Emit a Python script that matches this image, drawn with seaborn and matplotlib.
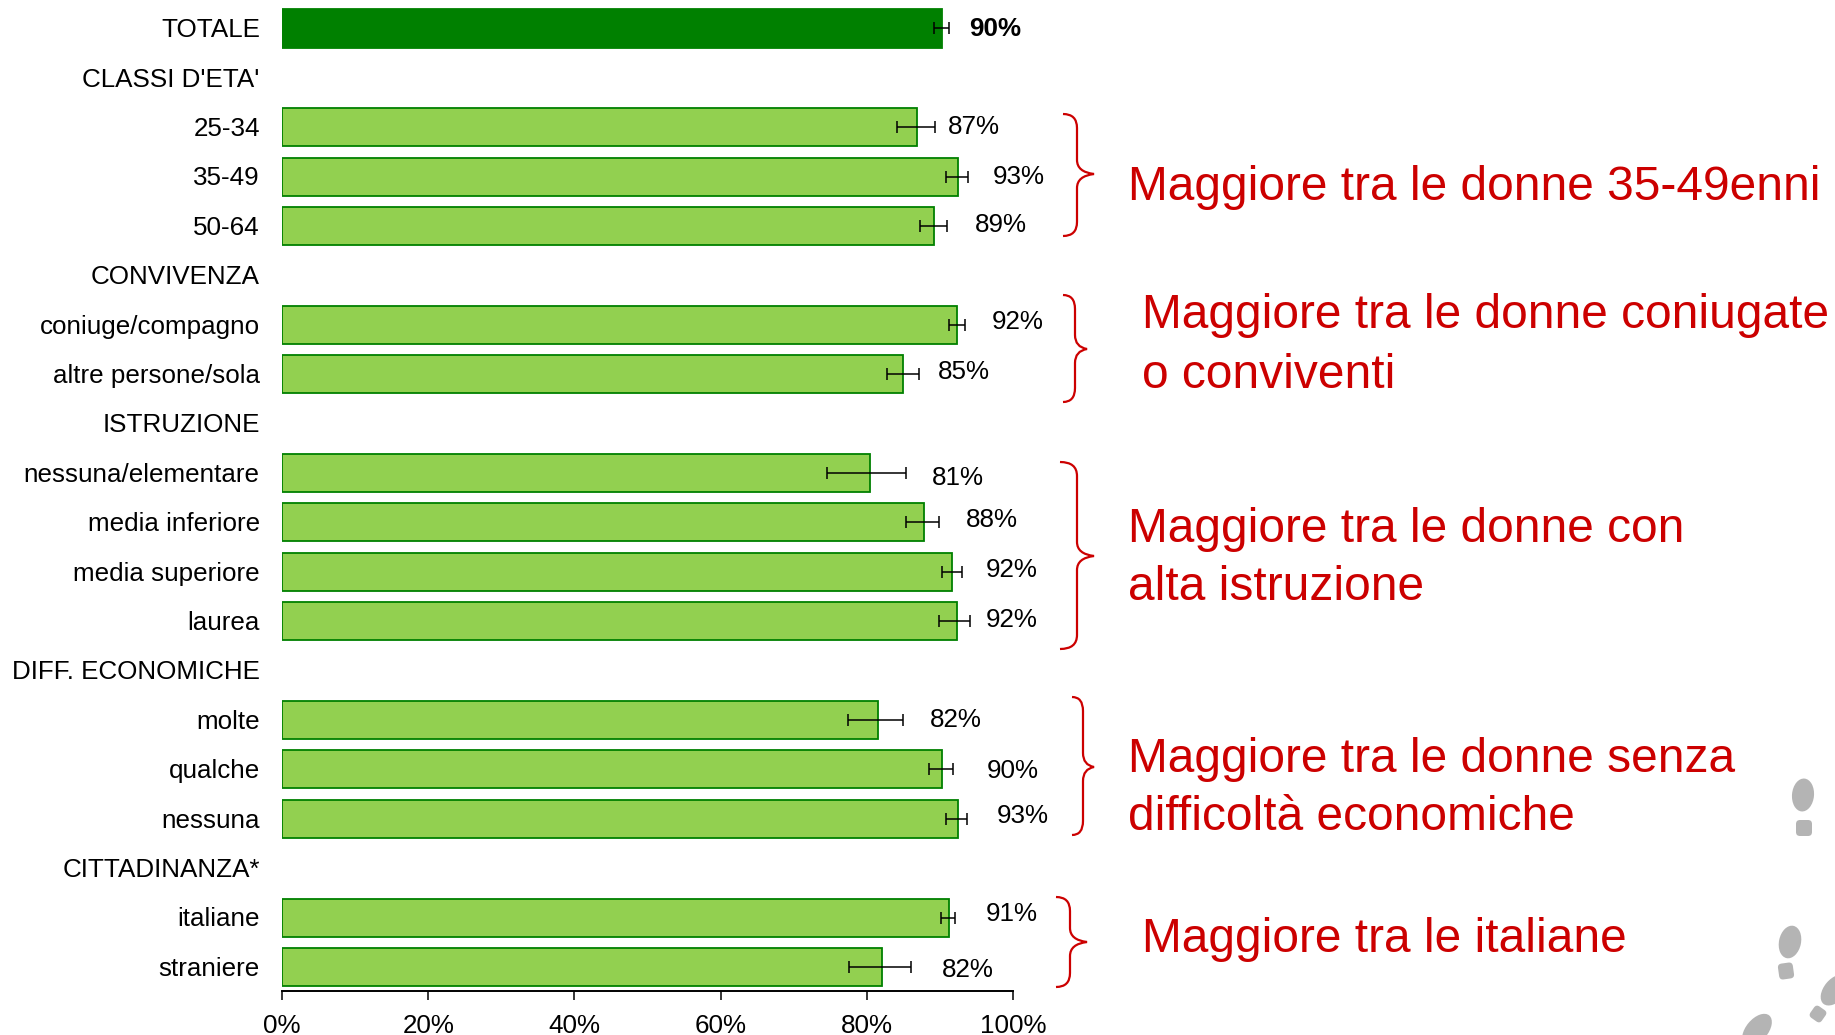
import numpy as np
import pandas as pd
import matplotlib as mpl
mpl.use("Agg")
import matplotlib.pyplot as plt
import seaborn as sns
from matplotlib.patches import Ellipse, FancyBboxPatch, PathPatch
from matplotlib.path import Path
from matplotlib.transforms import Affine2D, ScaledTranslation

labels = ["TOTALE", "CLASSI D'ETA'", "25-34", "35-49", "50-64", "CONVIVENZA",
          "coniuge/compagno", "altre persone/sola", "ISTRUZIONE", "nessuna/elementare",
          "media inferiore", "media superiore", "laurea", "DIFF. ECONOMICHE", "molte",
          "qualche", "nessuna", "CITTADINANZA*", "italiane", "straniere"]
nan = np.nan
values = [90.3, nan, 86.8, 92.5, 89.2, nan, 92.3, 85.0, nan, 80.5,
          87.8, 91.6, 92.3, nan, 81.5, 90.3, 92.5, nan, 91.2, 82.1]
ci_low = [89.2, nan, 84.1, 90.9, 87.3, nan, 91.2, 82.8, nan, 74.6,
          85.4, 90.3, 89.9, nan, 77.4, 88.5, 90.9, nan, 90.1, 77.6]
ci_high = [91.3, nan, 89.3, 93.8, 91.0, nan, 93.5, 87.2, nan, 85.4,
           89.9, 93.0, 94.1, nan, 85.0, 91.8, 93.7, nan, 92.1, 86.0]
value_text = ["90%", "", "87%", "93%", "89%", "", "92%", "85%", "", "81%",
              "88%", "92%", "92%", "", "82%", "90%", "93%", "", "91%", "82%"]
kinds = ["totale"] + ["gruppo"] * 19

# the labels were placed by hand in the original, not at the bar ends
label_x = [97.5, nan, 94.6, 100.8, 98.4, nan, 100.6, 93.3, nan, 92.5,
           97.1, 99.8, 99.8, nan, 92.2, 100.0, 101.3, nan, 99.8, 93.8]
label_dy = [.01, 0, -.01, .01, -.03, 0, -.05, -.05, 0, .11,
            -.05, -.03, -.03, 0, -.01, .04, -.05, 0, -.07, .07]

notes = [(1128, 188, "Maggiore tra le donne 35-49enni"),
         (1142, 316, "Maggiore tra le donne coniugate"),
         (1142, 375, "o conviventi"),
         (1128, 530, "Maggiore tra le donne con"),
         (1128, 587, "alta istruzione"),
         (1128, 759, "Maggiore tra le donne senza"),
         (1128, 817, "difficoltà economiche"),
         (1142, 940, "Maggiore tra le italiane")]
# left, spine, tip, top, middle, bottom
braces = [(1063, 1077, 1094, 114, 174, 236),
          (1063, 1075, 1087, 295, 349, 402),
          (1060, 1077, 1094, 462, 556, 649),
          (1072, 1083, 1094, 697, 767, 835),
          (1056, 1070, 1087, 897, 942, 987)]

W, H = 1835, 1035
RED = "#CC0000"
GREY = "#B4B4B4"

sns.set_theme(style="white")
plt.rcParams['font.family'] = ['Liberation Sans', 'DejaVu Sans']

df = pd.DataFrame({"row": range(len(labels)), "value": values, "kind": kinds})

fig = plt.figure(figsize=(W / 100, H / 100), dpi=100)
pix = Affine2D().scale(1 / W, -1 / H).translate(0, 1) + fig.transFigure
ax = fig.add_axes([282 / W, 1 - 990.7 / H, (1013 - 282) / W, (990.7 - 3.8) / H])

sns.barplot(data=df, x="value", y="row", hue="kind", order=list(range(len(labels))),
            orient="h", dodge=False, width=0.77, saturation=1, errorbar=None, legend=False,
            palette={"totale": "#008000", "gruppo": "#92D050"},
            edgecolor="#008000", linewidth=1.3, ax=ax)

pos = np.arange(len(labels))
vals = np.array(values)
ax.errorbar(vals, pos, xerr=[vals - np.array(ci_low), np.array(ci_high) - vals], fmt="none",
            ecolor="black", elinewidth=1.1, capsize=4, capthick=1.1, zorder=5)

ax.set_xlim(0, 100)
ax.set_ylim(19.48, -0.5)
ax.set_xticks(range(0, 101, 20))
ax.set_xticklabels([f"{t}%" for t in range(0, 101, 20)])
ax.set_yticks(pos)
ax.set_yticklabels(labels)
ax.set_xlabel("")
ax.set_ylabel("")
ax.tick_params(axis="x", length=6.5, width=1.1, color="black", labelsize=18.7, labelcolor="black", pad=10, bottom=True)
ax.tick_params(axis="y", length=0, labelsize=18.7, labelcolor="black", pad=16)
sns.despine(ax=ax, left=True)
ax.spines["bottom"].set_color("black")
ax.spines["bottom"].set_linewidth(1.4)

# category labels sit a little higher than the bar centres
lift = ScaledTranslation(0, 0.5 / 72, fig.dpi_scale_trans)
for lab in ax.get_yticklabels():
    lab.set_transform(lab.get_transform() + lift)

for i, txt in enumerate(value_text):
    if txt:
        ax.text(label_x[i], i + label_dy[i], txt, ha="center", va="center", fontsize=18.7,
                color="black", fontweight="bold" if i == 0 else "normal", clip_on=False)

for x, y, txt in notes:
    fig.text(x, y, txt, transform=pix, color=RED, fontsize=34.5, ha="left", va="center")

for left, spine, tip, top, mid, bot in braces:
    r = 14
    verts = [(left, top), (spine, top), (spine, top + r),
             (spine, mid - r), (spine, mid - 2), (tip, mid),
             (spine, mid + 2), (spine, mid + r),
             (spine, bot - r), (spine, bot), (left, bot)]
    codes = [Path.MOVETO, Path.CURVE3, Path.CURVE3,
             Path.LINETO, Path.CURVE3, Path.CURVE3,
             Path.CURVE3, Path.CURVE3,
             Path.LINETO, Path.CURVE3, Path.CURVE3]
    fig.add_artist(PathPatch(Path(verts, codes), fill=False, edgecolor=RED, linewidth=1.6, transform=pix))

# footprints in the corner of the slide
for x, y, w, h, ang in [(1803, 795, 22, 33, 5), (1790, 942, 22, 33, 12),
                        (1835, 990, 22, 36, 40), (1757, 1030, 22, 38, 40)]:
    fig.add_artist(Ellipse((x, y), w, h, angle=ang, facecolor=GREY, edgecolor="none", transform=pix))
for x, y, w, h, ang in [(1804, 828, 16, 16, 0), (1786, 971, 15, 16, -8), (1818, 1014, 14, 14, 35)]:
    box = FancyBboxPatch((-w / 2, -h / 2), w, h, boxstyle="round,pad=0,rounding_size=4", facecolor=GREY,
                         edgecolor="none", transform=Affine2D().rotate_deg(ang).translate(x, y) + pix)
    fig.add_artist(box)

plt.savefig("out.png", dpi=100)
